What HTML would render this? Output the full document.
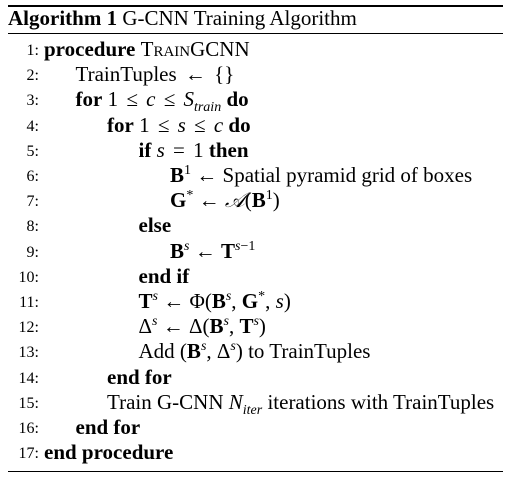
<!DOCTYPE html>
<html><head><meta charset="utf-8"><style>
body{margin:0;width:514px;height:477px;background:#fff;position:relative;overflow:hidden;font-family:"Liberation Serif",serif;color:#000}
.rule{position:absolute;left:8px;width:495px;background:#000}
.ln{position:absolute;left:0;width:39px;text-align:right;font-size:16px;line-height:25px}
.tx{position:absolute;font-size:21px;line-height:25px;white-space:nowrap}
b{font-weight:bold}
.sc{font-variant:small-caps}
i{font-style:italic}
sup,sub{font-size:14px;line-height:0}
.mb{font-weight:bold}
.op{margin:0 3px}
</style></head><body>
<div class="rule" style="top:5px;height:2px"></div>
<div class="tx" style="left:8px;top:6px;font-size:21px"><b>Algorithm 1</b> G-CNN Training Algorithm</div>
<div class="rule" style="top:33px;height:1px"></div>
<div id="lines"></div>
<div class="rule" style="top:471px;height:1px"></div>
<script>
const lines=[
[0,'<b>procedure</b> <span class="sc">TrainGCNN</span>'],
[1,'TrainTuples <span class="op">←</span> {}'],
[1,'<b>for</b> 1 <span class="op">≤</span> <i>c</i> <span class="op">≤</span> <i>S</i><sub><i>train</i></sub> <b>do</b>'],
[2,'<b>for</b> 1 <span class="op">≤</span> <i>s</i> <span class="op">≤</span> <i>c</i> <b>do</b>'],
[3,'<b>if</b> <i>s</i> <span class="op">=</span> 1 <b>then</b>'],
[4,'<span class="mb">B</span><sup>1</sup> ← Spatial pyramid grid of boxes'],
[4,'<span class="mb">G</span><sup>*</sup> ← <i>𝒜</i>(<span class="mb">B</span><sup>1</sup>)'],
[3,'<b>else</b>'],
[4,'<span class="mb">B</span><sup><i>s</i></sup> ← <span class="mb">T</span><sup><i>s</i>−1</sup>'],
[3,'<b>end if</b>'],
[3,'<span class="mb">T</span><sup><i>s</i></sup> ← Φ(<span class="mb">B</span><sup><i>s</i></sup>, <span class="mb">G</span><sup>*</sup>, <i>s</i>)'],
[3,'Δ<sup><i>s</i></sup> ← Δ(<span class="mb">B</span><sup><i>s</i></sup>, <span class="mb">T</span><sup><i>s</i></sup>)'],
[3,'Add (<span class="mb">B</span><sup><i>s</i></sup>, Δ<sup><i>s</i></sup>) to TrainTuples'],
[2,'<b>end for</b>'],
[2,'Train G-CNN <i>N</i><sub><i>iter</i></sub> iterations with TrainTuples'],
[1,'<b>end for</b>'],
[0,'<b>end procedure</b>']
];
const c=document.getElementById('lines');
lines.forEach((l,k)=>{
 const top=37+k*25.2;
 const n=document.createElement('div');
 n.className='ln';n.style.top=(top+1)+'px';n.textContent=(k+1)+':';
 
 
 c.appendChild(n);
 const t=document.createElement('div');
 t.className='tx';t.style.top=top+'px';t.style.left=(44+l[0]*31.5)+'px';t.innerHTML=l[1];
 
 
 c.appendChild(t);
});
</script>
</body></html>
